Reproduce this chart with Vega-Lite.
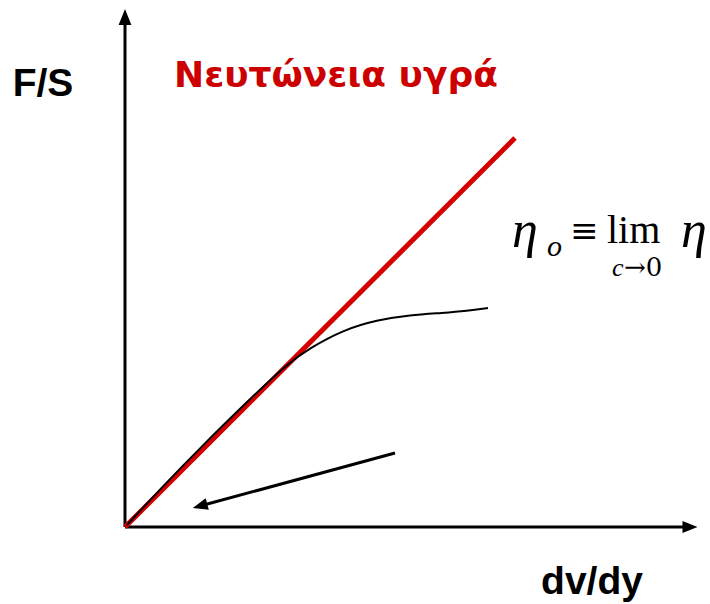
{
  "$schema": "https://vega.github.io/schema/vega-lite/v6.json",
  "width": 710,
  "height": 604,
  "padding": 0,
  "autosize": {"type": "fit", "contains": "padding"},
  "background": "white",
  "config": {"view": {"stroke": null}},
  "datasets": {
    "axes": [
      {"seg": "yaxis", "x": 0, "y": 0, "x2": 0, "y2": 5.02},
      {"seg": "xaxis", "x": 0, "y": 0, "x2": 5.58, "y2": 0},
      {"seg": "arrow", "x": 2.70, "y": 0.74, "x2": 0.75, "y2": 0.21}
    ],
    "heads": [
      {"head": "yaxis", "x": 0, "y": 5.10, "angle": 0, "size": 256},
      {"head": "xaxis", "x": 5.65, "y": 0, "angle": 90, "size": 225},
      {"head": "arrow", "x": 0.75, "y": 0.21, "angle": 255, "size": 225}
    ],
    "newton": [
      {"x": 0, "y": 0},
      {"x": 3.90, "y": 3.89}
    ],
    "curve": [
      {"x": 0.02, "y": 0.02},
      {"x": 0.40, "y": 0.43},
      {"x": 0.75, "y": 0.79},
      {"x": 1.25, "y": 1.28},
      {"x": 1.62, "y": 1.63},
      {"x": 1.85, "y": 1.79},
      {"x": 2.18, "y": 1.97},
      {"x": 2.52, "y": 2.07},
      {"x": 2.85, "y": 2.12},
      {"x": 3.18, "y": 2.14},
      {"x": 3.42, "y": 2.16},
      {"x": 3.63, "y": 2.19}
    ],
    "labels": [
      {"label": "F/S", "x": -0.82, "y": 4.31},
      {"label": "dv/dy", "x": 4.67, "y": -0.67}
    ],
    "title": [
      {"label": "Νευτώνεια υγρά", "x": 0.49, "y": 4.40}
    ],
    "mathItalic": [
      {"label": "η", "x": 3.87, "y": 2.80},
      {"label": "η", "x": 5.56, "y": 2.80}
    ],
    "mathSub": [
      {"label": "o", "x": 4.22, "y": 2.71}
    ],
    "mathUpright": [
      {"label": "lim", "x": 4.82, "y": 2.84}
    ],
    "equiv": [
      {"label": "≡", "x": 4.45, "y": 2.85}
    ],
    "limSubItalic": [
      {"label": "c", "x": 4.87, "y": 2.51}
    ],
    "limSub": [
      {"label": "→0", "x": 4.99, "y": 2.51}
    ]
  },
  "layer": [
    {
      "data": {"name": "axes"},
      "mark": {"type": "rule", "color": "black", "strokeWidth": 3},
      "encoding": {
        "x": {"field": "x", "type": "quantitative", "scale": {"domain": [-1.25, 5.85], "nice": false, "zero": false}, "axis": null},
        "y": {"field": "y", "type": "quantitative", "scale": {"domain": [-0.77, 5.27], "nice": false, "zero": false}, "axis": null},
        "x2": {"field": "x2"},
        "y2": {"field": "y2"}
      }
    },
    {
      "data": {"name": "heads"},
      "mark": {"type": "point", "shape": "M0,-1L-0.8,1L0.8,1Z", "filled": true, "color": "black", "opacity": 1, "strokeWidth": 0},
      "encoding": {
        "x": {"field": "x", "type": "quantitative"},
        "y": {"field": "y", "type": "quantitative"},
        "angle": {"field": "angle", "type": "quantitative", "scale": null},
        "size": {"field": "size", "type": "quantitative", "scale": null}
      }
    },
    {
      "data": {"name": "newton"},
      "mark": {"type": "line", "color": "#d40000", "strokeWidth": 5},
      "encoding": {
        "x": {"field": "x", "type": "quantitative"},
        "y": {"field": "y", "type": "quantitative"}
      }
    },
    {
      "data": {"name": "curve"},
      "mark": {"type": "line", "color": "black", "strokeWidth": 2, "interpolate": "basis"},
      "encoding": {
        "x": {"field": "x", "type": "quantitative"},
        "y": {"field": "y", "type": "quantitative"}
      }
    },
    {
      "data": {"name": "labels"},
      "mark": {"type": "text", "font": "Liberation Sans", "fontSize": 39, "fontWeight": "bold", "color": "black", "align": "center", "baseline": "alphabetic"},
      "encoding": {
        "x": {"field": "x", "type": "quantitative"},
        "y": {"field": "y", "type": "quantitative"},
        "text": {"field": "label"}
      }
    },
    {
      "data": {"name": "title"},
      "mark": {"type": "text", "font": "DejaVu Sans", "fontSize": 36, "fontWeight": "bold", "color": "#cc0000", "align": "left", "baseline": "alphabetic"},
      "encoding": {
        "x": {"field": "x", "type": "quantitative"},
        "y": {"field": "y", "type": "quantitative"},
        "text": {"field": "label"}
      }
    },
    {
      "data": {"name": "mathItalic"},
      "mark": {"type": "text", "font": "Liberation Serif", "fontSize": 52, "fontStyle": "italic", "color": "black", "align": "left", "baseline": "alphabetic"},
      "encoding": {
        "x": {"field": "x", "type": "quantitative"},
        "y": {"field": "y", "type": "quantitative"},
        "text": {"field": "label"}
      }
    },
    {
      "data": {"name": "mathSub"},
      "mark": {"type": "text", "font": "Liberation Serif", "fontSize": 30, "fontStyle": "italic", "color": "black", "align": "left", "baseline": "alphabetic"},
      "encoding": {
        "x": {"field": "x", "type": "quantitative"},
        "y": {"field": "y", "type": "quantitative"},
        "text": {"field": "label"}
      }
    },
    {
      "data": {"name": "mathUpright"},
      "mark": {"type": "text", "font": "Liberation Serif", "fontSize": 40, "color": "black", "align": "left", "baseline": "alphabetic"},
      "encoding": {
        "x": {"field": "x", "type": "quantitative"},
        "y": {"field": "y", "type": "quantitative"},
        "text": {"field": "label"}
      }
    },
    {
      "data": {"name": "equiv"},
      "mark": {"type": "text", "font": "DejaVu Serif", "fontSize": 34, "color": "black", "align": "left", "baseline": "alphabetic"},
      "encoding": {
        "x": {"field": "x", "type": "quantitative"},
        "y": {"field": "y", "type": "quantitative"},
        "text": {"field": "label"}
      }
    },
    {
      "data": {"name": "limSubItalic"},
      "mark": {"type": "text", "font": "Liberation Serif", "fontSize": 26, "fontStyle": "italic", "color": "black", "align": "left", "baseline": "alphabetic"},
      "encoding": {
        "x": {"field": "x", "type": "quantitative"},
        "y": {"field": "y", "type": "quantitative"},
        "text": {"field": "label"}
      }
    },
    {
      "data": {"name": "limSub"},
      "mark": {"type": "text", "font": "DejaVu Serif", "fontSize": 26, "color": "black", "align": "left", "baseline": "alphabetic"},
      "encoding": {
        "x": {"field": "x", "type": "quantitative"},
        "y": {"field": "y", "type": "quantitative"},
        "text": {"field": "label"}
      }
    }
  ]
}
